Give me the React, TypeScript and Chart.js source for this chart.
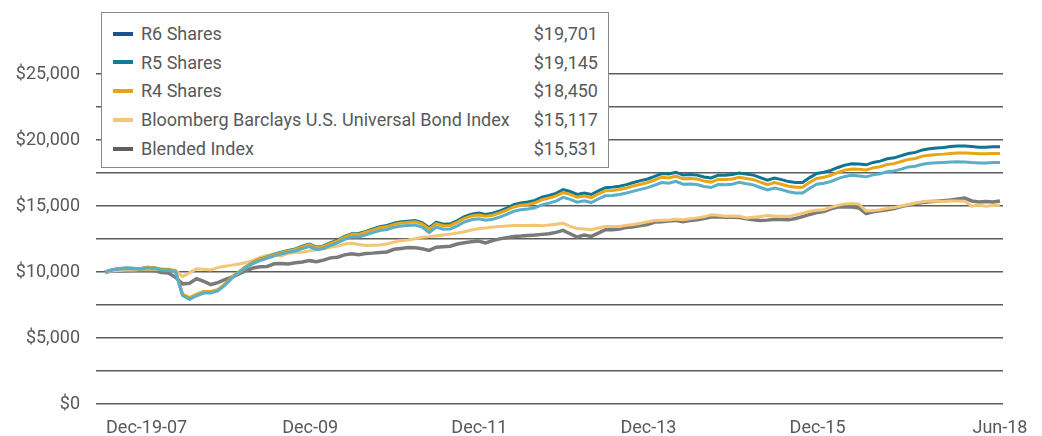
import React, { useEffect, useRef } from "react";
import { Chart, registerables } from "chart.js";

Chart.register(...registerables);

const xTickLabels = ["Dec-19-07", "Dec-09", "Dec-11", "Dec-13", "Dec-15", "Jun-18"];
const xTickIndex = [0, 25, 49, 73, 97, 127];
const yTicks = [0, 5000, 10000, 15000, 20000, 25000];

const legendNames = ["R6 Shares", "R5 Shares", "R4 Shares", "Bloomberg Barclays U.S. Universal Bond Index", "Blended Index"];
const legendValues = ["$19,701", "$19,145", "$18,450", "$15,117", "$15,531"];
const legendColors = ["#1d4f91", "#167b98", "#e9a31b", "#f3c67c", "#5f5f5f"];

const r6 = [
  10000, 10180, 10260, 10300, 10280, 10250, 10360, 10330, 10200, 10180,
  10050, 8280, 7990, 8270, 8480, 8470, 8620, 9050, 9600, 10000,
  10400, 10740, 10980, 11150, 11350, 11500, 11640, 11750, 11950, 12120,
  11880, 11980, 12220, 12420, 12700, 12900, 12920, 13080, 13260, 13430,
  13520, 13700, 13800, 13850, 13900, 13750, 13350, 13780, 13620, 13650,
  13900, 14200, 14380, 14460, 14360, 14450, 14620, 14840, 15100, 15230,
  15300, 15420, 15660, 15800, 15960, 16240, 16100, 15880, 15990, 15870,
  16150, 16390, 16430, 16500, 16620, 16780, 16920, 17050, 17250, 17460,
  17420, 17560, 17350, 17380, 17340, 17200, 17120, 17330, 17330, 17380,
  17500, 17420, 17340, 17150, 16950, 17120, 17000, 16850, 16780, 16780,
  17150, 17460, 17560, 17700, 17920, 18100, 18200, 18180, 18120, 18300,
  18400, 18580, 18650, 18820, 18980, 19060, 19250, 19340, 19400, 19440,
  19500, 19540, 19540, 19500, 19460, 19460, 19480, 19480,
];

const r4 = [
  10000, 10170, 10250, 10290, 10270, 10240, 10350, 10320, 10190, 10170,
  10060, 8330, 8060, 8330, 8530, 8520, 8660, 9080, 9610, 10000,
  10390, 10720, 10950, 11120, 11320, 11470, 11600, 11710, 11900, 12070,
  11830, 11930, 12170, 12360, 12640, 12840, 12850, 13010, 13190, 13350,
  13440, 13610, 13710, 13750, 13800, 13650, 13250, 13670, 13510, 13530,
  13780, 14070, 14250, 14320, 14220, 14300, 14470, 14680, 14930, 15060,
  15120, 15240, 15470, 15600, 15760, 16020, 15880, 15660, 15760, 15640,
  15910, 16150, 16180, 16250, 16360, 16520, 16650, 16780, 16970, 17180,
  17130, 17270, 17060, 17080, 17040, 16890, 16810, 17010, 17000, 17050,
  17170, 17080, 17000, 16810, 16620, 16770, 16650, 16500, 16420, 16420,
  16790, 17090, 17180, 17320, 17540, 17720, 17810, 17790, 17730, 17890,
  17980, 18150, 18210, 18370, 18530, 18600, 18780, 18850, 18900, 18930,
  18980, 19010, 19020, 18990, 18960, 18960, 18980, 18980,
];

const r5 = [
  10000, 10150, 10230, 10260, 10240, 10210, 10310, 10290, 10150, 10130,
  10000, 8220, 7930, 8200, 8410, 8400, 8560, 8980, 9530, 9930,
  10320, 10640, 10870, 11030, 11220, 11360, 11490, 11590, 11770, 11930,
  11690, 11780, 12010, 12200, 12470, 12660, 12660, 12810, 12980, 13140,
  13220, 13390, 13480, 13520, 13560, 13400, 12990, 13410, 13240, 13260,
  13500, 13790, 13960, 14030, 13920, 14000, 14160, 14360, 14600, 14720,
  14770, 14870, 15090, 15220, 15370, 15650, 15500, 15290, 15390, 15260,
  15530, 15770, 15800, 15870, 15980, 16130, 16260, 16390, 16580, 16780,
  16730, 16870, 16650, 16670, 16630, 16480, 16400, 16620, 16610, 16650,
  16790, 16690, 16600, 16400, 16210, 16360, 16240, 16080, 15990, 15990,
  16340, 16650, 16730, 16860, 17070, 17240, 17320, 17280, 17210, 17360,
  17440, 17600, 17660, 17790, 17960, 18010, 18160, 18230, 18280, 18300,
  18330, 18350, 18340, 18290, 18260, 18260, 18290, 18290,
];

const bloomberg = [
  10000, 10080, 10120, 10160, 10150, 10180, 10230, 10210, 10200, 10220,
  10120, 9650, 9950, 10240, 10200, 10160, 10330, 10440, 10520, 10600,
  10720, 10880, 11100, 11250, 11320, 11220, 11420, 11480, 11500, 11600,
  11680, 11760, 11870, 11960, 12120, 12180, 12080, 12000, 12020, 12050,
  12120, 12260, 12390, 12420, 12520, 12640, 12680, 12740, 12800, 12870,
  12950, 13050, 13180, 13280, 13330, 13400, 13450, 13480, 13520, 13530,
  13520, 13540, 13510, 13560, 13620, 13700, 13450, 13300, 13260, 13200,
  13330, 13450, 13440, 13450, 13540, 13600, 13700, 13800, 13900, 13920,
  13930, 14010, 13960, 14040, 14100, 14180, 14340, 14300, 14220, 14250,
  14220, 14100, 14150, 14200, 14280, 14240, 14230, 14200, 14330, 14450,
  14600, 14680, 14720, 14900, 15050, 15160, 15180, 15140, 14620, 14650,
  14720, 14820, 14890, 15000, 15120, 15220, 15330, 15380, 15360, 15340,
  15370, 15380, 15360, 14980, 15080, 14980, 15040, 15050,
];

const blended = [
  10000, 10050, 10080, 10100, 10110, 10110, 10120, 10100, 9960, 9930,
  9600, 9100, 9150, 9500, 9300, 9050, 9200, 9420, 9620, 9850,
  10100, 10300, 10400, 10420, 10620, 10640, 10600, 10700, 10760, 10860,
  10780, 10900, 11070, 11120, 11300, 11380, 11300, 11400, 11430, 11480,
  11520, 11720, 11780, 11850, 11830, 11760, 11640, 11880, 11920, 11950,
  12120, 12220, 12300, 12340, 12200, 12380, 12510, 12600, 12690, 12720,
  12770, 12800, 12850, 12900, 13000, 13150, 12900, 12650, 12800, 12700,
  12950, 13200, 13200, 13250, 13380, 13430, 13520, 13600, 13780, 13800,
  13870, 13910, 13800, 13900, 13960, 14050, 14160, 14180, 14150, 14150,
  14120, 14030, 13960, 13910, 13930, 14000, 13980, 13950, 14050, 14200,
  14360, 14500, 14580, 14780, 14920, 14920, 14930, 14850, 14420, 14560,
  14640, 14720, 14800, 14950, 15080, 15180, 15260, 15320, 15360, 15400,
  15450, 15530, 15600, 15380, 15300, 15340, 15300, 15380,
];

const FONT = "Roboto, 'Liberation Sans', Arial, sans-serif";
const TEXT = "#58595b";

const toPts = (arr: number[]) => arr.map((v, i) => ({ x: i, y: v }));

const xLabelPlugin = {
  id: "xLabels",
  afterDraw(chart: any) {
    const { ctx } = chart;
    const xs = chart.scales.x;
    ctx.save();
    ctx.font = "18px " + FONT;
    ctx.fillStyle = TEXT;
    ctx.textBaseline = "middle";
    xTickLabels.forEach((lab, k) => {
      const px = xs.getPixelForValue(xTickIndex[k]);
      const last = k === xTickLabels.length - 1;
      ctx.textAlign = last ? "center" : "left";
      ctx.fillText(lab, last ? px : px + 1, 428);
    });
    ctx.restore();
  },
};

export default function App() {
  const ref = useRef<HTMLCanvasElement | null>(null);

  useEffect(() => {
    if (!ref.current) return;
    const mk = (label: string, data: number[], color: string, width: number, order: number) => ({
      label,
      data: toPts(data),
      borderColor: color,
      backgroundColor: color,
      borderWidth: width,
      pointRadius: 0,
      tension: 0,
      fill: false,
      order,
    });
    const chart = new Chart(ref.current, {
      type: "line",
      data: {
        datasets: [
          mk("R6 Shares", r6, "#0e7592", 3, 2),
          mk("R5 Shares", r5, "#5aaec8", 3, 0),
          mk("R4 Shares", r4, "#e9a417", 3, 1),
          mk("Bloomberg Barclays U.S. Universal Bond Index", bloomberg, "#f4c577", 3, 3),
          mk("Blended Index", blended, "#7a7a7a", 3.5, 4),
        ],
      },
      options: {
        animation: false,
        responsive: true,
        maintainAspectRatio: false,
        layout: { padding: { top: 74, bottom: 24, right: 39, left: 0 } },
        plugins: { legend: { display: false }, tooltip: { enabled: false } },
        scales: {
          x: {
            type: "linear",
            min: -1.28,
            max: 127.43,
            display: true,
            grid: { display: false },
            border: { display: false },
            ticks: { display: false },
          },
          y: {
            min: 0,
            max: 25000,
            afterFit: (s: any) => {
              s.width = 96;
            },
            grid: { color: "#5c5c5c", lineWidth: 1.5, drawTicks: false },
            border: { display: false },
            ticks: {
              stepSize: 2500,
              padding: 16,
              color: TEXT,
              font: { family: FONT, size: 18 },
              callback: (v: any) =>
                yTicks.includes(Number(v)) ? "$" + Number(v).toLocaleString("en-US") : "",
            },
          },
        },
      },
      plugins: [xLabelPlugin],
    });
    return () => chart.destroy();
  }, []);

  return (
    <div style={{ position: "fixed", left: 0, top: 0, width: 1042, height: 436, background: "#fff" }}>
      <canvas ref={ref} />
      <div
        style={{
          position: "absolute",
          left: 101,
          top: 12,
          width: 508,
          height: 156,
          boxSizing: "border-box",
          border: "1.5px solid #8a8a8a",
          background: "#fff",
          fontFamily: FONT,
          fontSize: 18,
          color: TEXT,
          paddingTop: 6,
        }}
      >
        {legendNames.map((n, i) => (
          <div key={n} style={{ position: "relative", height: 28.75, display: "flex", alignItems: "center" }}>
            <span
              style={{
                position: "absolute",
                left: 11,
                top: 12.5,
                width: 20,
                height: 4,
                background: legendColors[i],
              }}
            />
            <span style={{ position: "absolute", left: 39, whiteSpace: "nowrap" }}>{n}</span>
            <span style={{ position: "absolute", right: 10, whiteSpace: "nowrap" }}>{legendValues[i]}</span>
          </div>
        ))}
      </div>
    </div>
  );
}
